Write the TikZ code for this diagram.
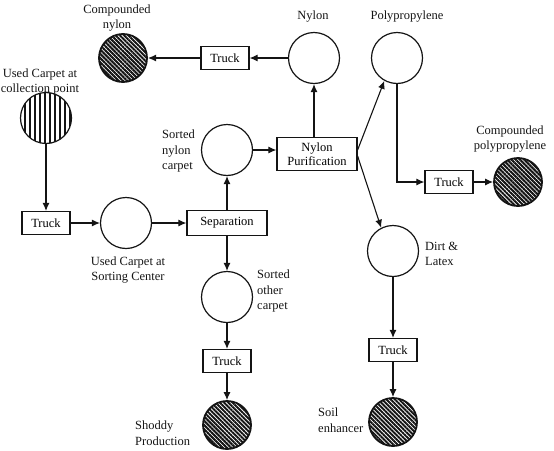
\documentclass[tikz,border=0pt]{standalone}
\usepackage{fontspec}
\setmainfont{Liberation Serif}
\usetikzlibrary{arrows.meta,positioning,patterns.meta}
\definecolor{inkBlack}{RGB}{20, 20, 20}
\tikzset{
  flowArrow/.style={-{Latex[length=8pt,width=7pt]}, line width=1.1pt, draw=inkBlack},
  stockCircle/.style={circle, draw=inkBlack, line width=1.2pt, minimum size=51pt, inner sep=0pt},
  productCircle/.style={stockCircle, line width=1.8pt, minimum size=48pt,
    pattern={Lines[angle=-45,distance=3pt,line width=2pt]}, pattern color=inkBlack},
  sourceCircle/.style={stockCircle, pattern={Lines[angle=90,distance=5pt,line width=1.6pt]}, pattern color=inkBlack},
  procBox/.style={draw=inkBlack, line width=1.2pt, minimum height=23pt, inner sep=2pt},
  tag/.style={align=center, inner sep=0pt, text=inkBlack},
}

\begin{document}
\begin{tikzpicture}[x=1pt, y=-1pt, font=\fontsize{12.5pt}{15.5pt}\selectfont]
\useasboundingbox (0,0) rectangle (554,450);
% stocks
\node[sourceCircle] (collect) at (46,118) {};
\node[stockCircle] (sortCenter) at (126,223) {};
\node[stockCircle] (sortNylon) at (227,150) {};
\node[stockCircle] (sortOther) at (227,297) {};
\node[stockCircle] (nylon) at (314,58) {};
\node[stockCircle] (poly) at (397,58) {};
\node[stockCircle] (dirt) at (393,251) {};
% end products
\node[productCircle] (cNylon) at (123,58) {};
\node[productCircle] (cPoly) at (518,182) {};
\node[productCircle] (shoddy) at (227,425) {};
\node[productCircle] (soil) at (393,422) {};
% processes
\node[procBox, minimum width=48pt] (truckA) at (46,223) {Truck};
\node[procBox, minimum width=80pt, minimum height=25pt] (separate) at (227,223) {Separation};
\node[procBox, minimum width=80pt, minimum height=33pt, align=center] (purify) at (317,154) {Nylon\\[-2pt]Purification};
\node[procBox, minimum width=48pt] (truckNylon) at (225,58) {Truck};
\node[procBox, minimum width=48pt] (truckPoly) at (449,182) {Truck};
\node[procBox, minimum width=48pt] (truckOther) at (227,361) {Truck};
\node[procBox, minimum width=48pt] (truckDirt) at (393,350) {Truck};
% labels
\node[tag] (cNylonTag) at (117,18) {Compounded\\nylon};
\node[tag] (collectTag) at (40,82) {Used Carpet at\\collection point};
\node[tag] (nylonTag) at (313,17) {Nylon};
\node[tag] (polyTag) at (407,17) {Polypropylene};
\node[tag] (cPolyTag) at (510,139) {Compounded\\polypropylene};
\node[tag, align=left, anchor=west] (sortNylonTag) at (162,151) {Sorted\\nylon\\carpet};
\node[tag] (sortCenterTag) at (128,270) {Used Carpet at\\Sorting Center};
\node[tag, align=left, anchor=west] (sortOtherTag) at (257,291) {Sorted\\other\\carpet};
\node[tag, align=left, anchor=west] (dirtTag) at (425,254) {Dirt \&\\Latex};
\node[tag, align=left, anchor=west] (soilTag) at (318,420) {Soil\\enhancer};
\node[tag, align=left, anchor=west] (shoddyTag) at (135,433) {Shoddy\\Production};
% flows
\draw[flowArrow] (collect) -- (truckA);
\draw[flowArrow] (truckA) -- (sortCenter);
\draw[flowArrow] (sortCenter) -- (separate);
\draw[flowArrow] (separate) -- (sortNylon);
\draw[flowArrow] (separate) -- (sortOther);
\draw[flowArrow] (sortNylon) -- (sortNylon -| purify.west);
\draw[flowArrow] (purify.north -| nylon) -- (nylon);
\draw[flowArrow] ([yshift=4pt]purify.east) -- (poly.241);
\draw[flowArrow] ([yshift=-2pt]purify.east) -- (dirt.117);
\draw[flowArrow] (poly) |- (truckPoly);
\draw[flowArrow] (truckPoly) -- (cPoly);
\draw[flowArrow] (dirt) -- (truckDirt);
\draw[flowArrow] (truckDirt) -- (soil);
\draw[flowArrow] (sortOther) -- (truckOther);
\draw[flowArrow] (truckOther) -- (shoddy);
\draw[flowArrow] (nylon) -- (truckNylon);
\draw[flowArrow] (truckNylon) -- (cNylon);
\end{tikzpicture}
\end{document}
